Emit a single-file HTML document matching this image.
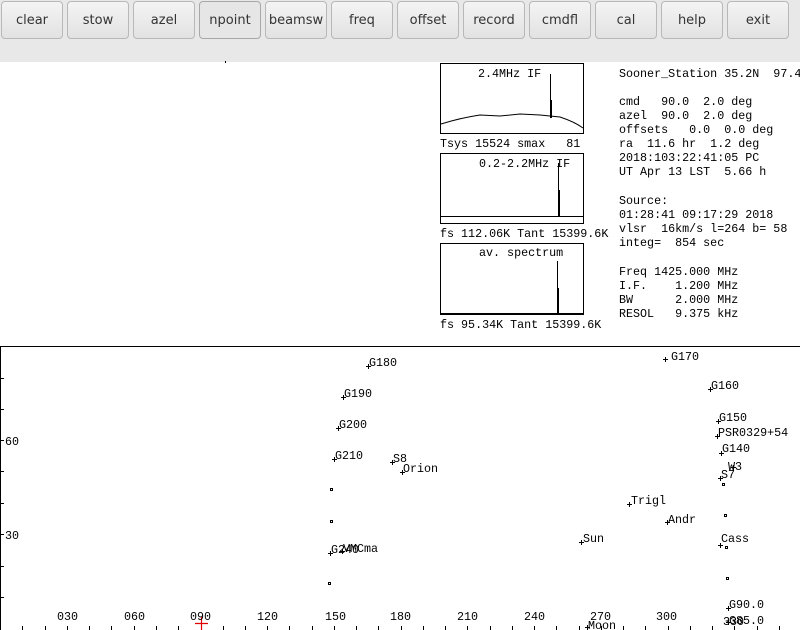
<!DOCTYPE html>
<html><head><meta charset="utf-8"><style>
body{margin:0;width:800px;height:630px;overflow:hidden;background:#fff;font-family:"DejaVu Sans","Liberation Sans",sans-serif}
.bar{position:absolute;left:0;top:0;width:800px;height:62px;background:#e8e8e8}
.b{position:absolute;top:1px;height:38px;width:62px;box-sizing:border-box;border:1px solid #b8b8b8;border-radius:4px;background:linear-gradient(#f4f4f4,#e2e2e2);font-size:13px;color:#333;text-align:center;line-height:38px;overflow:hidden;white-space:nowrap}
svg{position:absolute;left:0;top:0}
svg text{font-family:"Liberation Mono","DejaVu Sans Mono",monospace;font-size:11.7px;fill:#000;white-space:pre}
</style></head><body>
<div class="bar">
<div class="b" style="left:1px">clear</div>
<div class="b" style="left:67px">stow</div>
<div class="b" style="left:133px">azel</div>
<div class="b" style="left:199px;border-color:#a8a8a8;background:#e6e6e6">npoint</div>
<div class="b" style="left:265px">beamsw</div>
<div class="b" style="left:331px">freq</div>
<div class="b" style="left:397px">offset</div>
<div class="b" style="left:463px">record</div>
<div class="b" style="left:529px">cmdfl</div>
<div class="b" style="left:595px">cal</div>
<div class="b" style="left:661px">help</div>
<div class="b" style="left:727px">exit</div>
</div>
<svg width="800" height="630" viewBox="0 0 800 630">
<rect x="225" y="61" width="1" height="2" fill="#000"/>
<g fill="none" stroke="#000" stroke-width="1">
<rect x="440.5" y="63.5" width="143" height="70"/>
<rect x="440.5" y="153.5" width="143" height="70"/>
<rect x="440.5" y="243.5" width="143" height="71"/>
<path d="M441 124 Q460 118 480 115 L500 116 L520 114 L540 115 L560 117 Q575 122 583 128"/>
<path d="M550.5 74 V118 M551.5 100 V118"/>
<path d="M441 216.5 H583 M558.5 163 V216 M559.5 190 V216"/>
<path d="M441 313.5 H583 M557.5 261 V313 M558.5 288 V313"/>
</g>
<text x="478" y="77">2.4MHz IF</text>
<text x="440" y="147">Tsys 15524 smax   81</text>
<text x="479" y="167">0.2-2.2MHz IF</text>
<text x="440" y="237">fs 112.06K Tant 15399.6K</text>
<text x="479" y="256">av. spectrum</text>
<text x="440" y="328">fs 95.34K Tant 15399.6K</text>
<text x="619" y="77">Sooner_Station 35.2N  97.4</text>
<text x="619" y="105">cmd   90.0  2.0 deg</text>
<text x="619" y="119">azel  90.0  2.0 deg</text>
<text x="619" y="133">offsets   0.0  0.0 deg</text>
<text x="619" y="147">ra  11.6 hr  1.2 deg</text>
<text x="619" y="161">2018:103:22:41:05 PC</text>
<text x="619" y="175">UT Apr 13 LST  5.66 h</text>
<text x="619" y="204">Source:</text>
<text x="619" y="218">01:28:41 09:17:29 2018</text>
<text x="619" y="232">vlsr  16km/s l=264 b= 58</text>
<text x="619" y="246">integ=  854 sec</text>
<text x="619" y="275">Freq 1425.000 MHz</text>
<text x="619" y="289">I.F.    1.200 MHz</text>
<text x="619" y="303">BW      2.000 MHz</text>
<text x="619" y="317">RESOL   9.375 kHz</text>
<g stroke="#000" stroke-width="1" fill="none">
<path d="M0 346.5 H800 M0.5 346 V630"/>
<path d="M0 378.5h4M0 409.5h4M0 440.5h4M0 471.5h4M0 503.5h4M0 534.5h4M0 566.5h4M0 597.5h4"/>
<path d="M22.5 626v4M45.5 626v4M67.5 626v4M89.5 626v4M111.5 626v4M134.5 626v4M156.5 626v4M178.5 626v4M223.5 626v4M245.5 626v4M267.5 626v4M289.5 626v4M312.5 626v4M334.5 626v4M356.5 626v4M378.5 626v4M401.5 626v4M423.5 626v4M445.5 626v4M467.5 626v4M490.5 626v4M512.5 626v4M534.5 626v4M556.5 626v4M579.5 626v4M601.5 626v4M623.5 626v4M645.5 626v4M668.5 626v4M690.5 626v4M712.5 626v4M734.5 626v4M757.5 626v4M779.5 626v4"/>
<path d="M366 366.5h5M368.5 364v5 M341 397.5h5M343.5 395v5 M336 428.5h5M338.5 426v5 M332 459.5h5M334.5 457v5 M390 462.5h5M392.5 460v5 M400 472.5h5M402.5 470v5 M328 553.5h5M330.5 551v5 M340 551.5h5M342.5 549v5
M663 359.5h5M665.5 357v5 M708 389.5h5M710.5 387v5 M716 421.5h5M718.5 419v5 M715 436.5h5M717.5 434v5 M719 453.5h5M721.5 451v5 M731 467.5h5M733.5 465v5 M718 478.5h5M720.5 476v5 M627 504.5h5M629.5 502v5 M665 522.5h5M667.5 520v5 M579 542.5h5M581.5 540v5 M718 545.5h5M720.5 543v5 M726 608.5h5M728.5 606v5 M726 622.5h5M728.5 620v5 M585 627.5h5M587.5 625v5"/>
<rect x="330.5" y="488.5" width="2" height="2"/><rect x="330.5" y="520.5" width="2" height="2"/><rect x="328.5" y="582.5" width="2" height="2"/>
<rect x="722.5" y="483.5" width="2" height="2"/><rect x="724.5" y="514.5" width="2" height="2"/><rect x="725.5" y="546.5" width="2" height="2"/><rect x="726.5" y="577.5" width="2" height="2"/>
</g>
<path d="M195 623.5h13M201.5 617v13" stroke="#e00000" stroke-width="1.2"/>
<text x="5" y="445">60</text>
<text x="5" y="539">30</text>
<text x="57" y="620">030</text><text x="124" y="620">060</text><text x="190" y="620">090</text><text x="257" y="620">120</text><text x="325" y="620">150</text><text x="390" y="620">180</text><text x="457" y="620">210</text><text x="524" y="620">240</text><text x="590" y="620">270</text><text x="656" y="620">300</text><text x="723" y="625">330</text>
<text x="369" y="366">G180</text><text x="344" y="397">G190</text><text x="339" y="428">G200</text><text x="335" y="459">G210</text>
<text x="393" y="462">S8</text><text x="403" y="472">Orion</text><text x="331" y="553">G240</text><text x="343" y="552">VMCma</text>
<text x="671" y="360">G170</text><text x="711" y="389">G160</text><text x="719" y="421">G150</text><text x="718" y="436">PSR0329+54</text>
<text x="722" y="452">G140</text><text x="728" y="470">W3</text><text x="721" y="478">S7</text>
<text x="631" y="504">Trigl</text><text x="668" y="523">Andr</text><text x="583" y="542">Sun</text><text x="721" y="542">Cass</text>
<text x="729" y="608">G90.0</text><text x="729" y="624">G85.0</text><text x="588" y="629">Moon</text>
</svg>
</body></html>
